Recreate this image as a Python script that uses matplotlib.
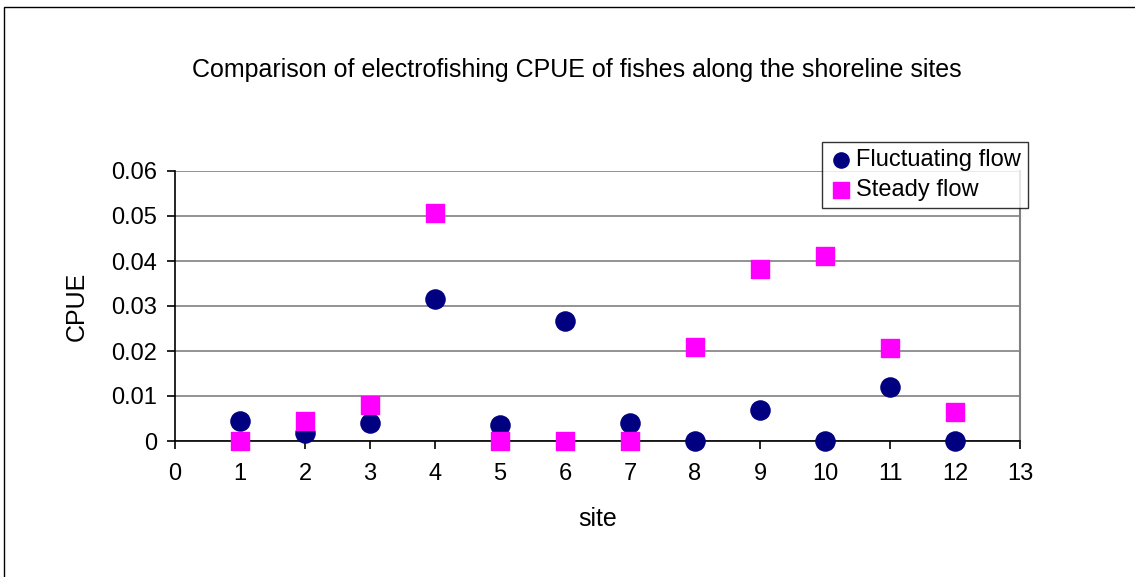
import matplotlib.pyplot as plt
from matplotlib.patches import Rectangle

plt.rcParams['font.family'] = ['Liberation Sans', 'DejaVu Sans']

# CPUE per shoreline site
sites = [1, 2, 3, 4, 5, 6, 7, 8, 9, 10, 11, 12]
fluctuating = [0.0044, 0.0018, 0.0039, 0.0316, 0.0035, 0.0266, 0.0040, 0.0, 0.0068, 0.0, 0.0121, 0.0]
steady = [0.0, 0.0044, 0.0081, 0.0507, 0.0, 0.0, 0.0, 0.0208, 0.0382, 0.0411, 0.0206, 0.0065]

fig = plt.figure(figsize=(11.35, 5.77), dpi=100)
# outer chart border
fig.patches.append(Rectangle((4 / 1135, -0.05), 1.1, (577 - 7) / 577 + 0.05,
                             transform=fig.transFigure, fill=False,
                             edgecolor='black', linewidth=1.0))

ax = fig.add_axes([175 / 1135, 136 / 577, 845 / 1135, 270 / 577])
ax.scatter(sites, fluctuating, s=190, marker='o', color='#000080',
           label='Fluctuating flow', zorder=3, clip_on=False)
ax.scatter(sites, steady, s=170, marker='s', color='#FF00FF',
           label='Steady flow', zorder=3, clip_on=False)

ax.set_xlim(0, 13)
ax.set_ylim(0, 0.06)
ax.set_xticks(range(0, 14))
ax.set_yticks([0, 0.01, 0.02, 0.03, 0.04, 0.05, 0.06])
ax.set_yticklabels(['0', '0.01', '0.02', '0.03', '0.04', '0.05', '0.06'])
ax.yaxis.grid(True, color='#808080', linewidth=1.2)
ax.set_axisbelow(True)
ax.tick_params(labelsize=17, direction='out', length=6, width=1.2)
ax.tick_params(axis='y', pad=7)
ax.tick_params(axis='x', pad=10)

ax.spines['top'].set_visible(False)
ax.spines['right'].set_color('#808080')
ax.spines['right'].set_linewidth(1.5)
ax.spines['left'].set_linewidth(1.2)
ax.spines['bottom'].set_linewidth(1.2)

ax.set_xlabel('site', fontsize=18, labelpad=16)
ax.set_ylabel('CPUE', fontsize=18, labelpad=16)

fig.text(577 / 1135, 1 - 70 / 577,
         'Comparison of electrofishing CPUE of fishes along the shoreline sites',
         fontsize=18, ha='center', va='center')

leg = ax.legend(loc='upper right', bbox_to_anchor=(1028 / 1135, 1 - 142 / 577),
                bbox_transform=fig.transFigure, fontsize=17, frameon=True,
                fancybox=False, edgecolor='black', handletextpad=0.15,
                borderpad=0.3, labelspacing=0.35, handlelength=1.0,
                borderaxespad=0)
leg.get_frame().set_linewidth(1.0)
for h in leg.legend_handles:
    h.set_sizes([120])

fig.savefig('out.png', dpi=100)
